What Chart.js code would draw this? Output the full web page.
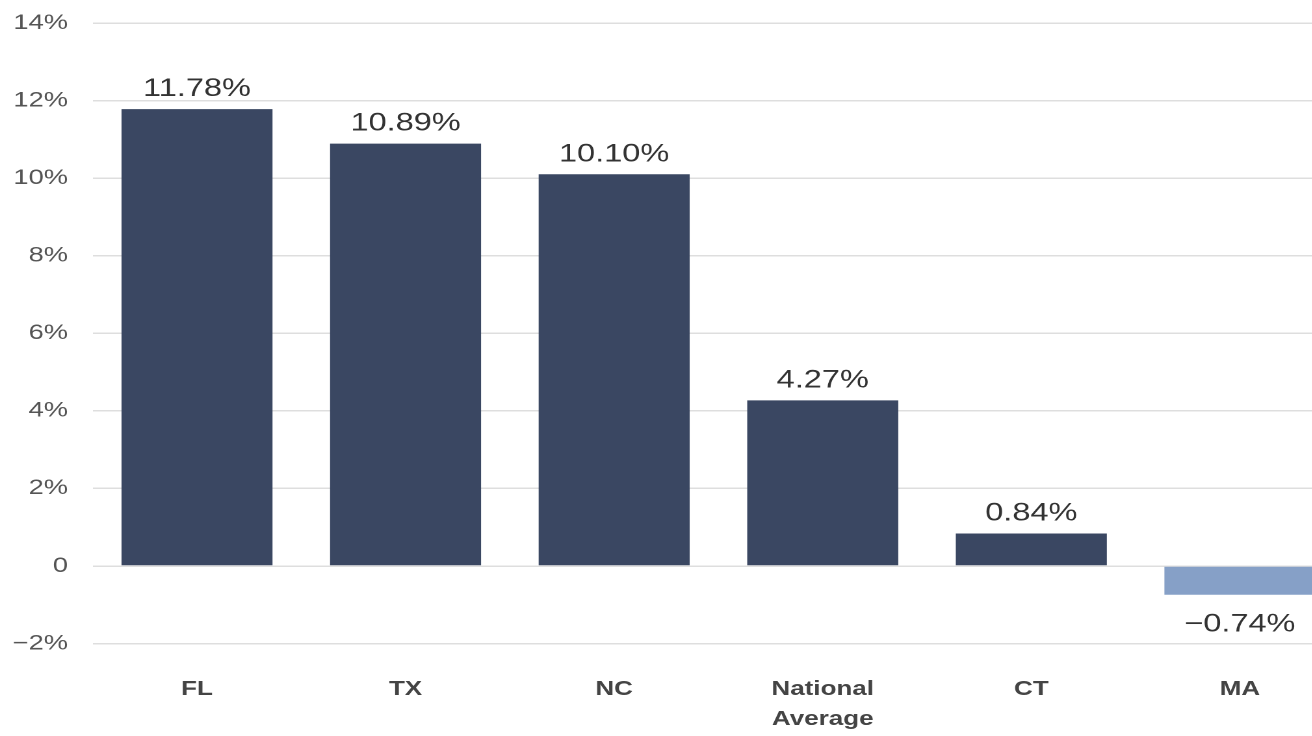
<!DOCTYPE html>
<html>
<head>
<meta charset="utf-8">
<script src="https://cdn.jsdelivr.net/npm/chart.js"></script>
<style>
  html, body { margin: 0; padding: 0; background: #fff; overflow: hidden; }
  #wrap { width: 1035px; height: 736px; transform: scaleX(1.3); transform-origin: 0 0; }
</style>
</head>
<body>
<div id="wrap"><canvas id="chart_growth" width="1035" height="736"></canvas></div>
<script>
// data
const states = ['FL', 'TX', 'NC', ['National', 'Average'], 'CT', 'MA'];
const growth = [11.78, 10.89, 10.10, 4.27, 0.84, -0.74];
const yTicks = [-2, 0, 2, 4, 6, 8, 10, 12, 14];

const DARK = '#3a4762';
const LIGHT = '#86a0c7';
const FONT = '"Liberation Sans", Arial, sans-serif';

const fmtPct = v => (v < 0 ? '\u2212' : '') + Math.abs(v).toFixed(2) + '%';

// value labels above / below each bar
const barLabels = {
  id: 'barLabels',
  afterDatasetsDraw(chart) {
    const ctx = chart.ctx;
    const meta = chart.getDatasetMeta(0);
    ctx.save();
    ctx.font = '25px ' + FONT;
    ctx.fillStyle = '#333';
    ctx.textAlign = 'center';
    ctx.textBaseline = 'alphabetic';
    meta.data.forEach((bar, i) => {
      const v = growth[i];
      if (v >= 0) {
        ctx.fillText(fmtPct(v), bar.x, bar.y - 13);
      } else {
        ctx.fillText(fmtPct(v), bar.x, bar.y + 37);
      }
    });
    ctx.restore();
  }
};

new Chart('chart_growth', {
  type: 'bar',
  data: {
    labels: states,
    datasets: [{
      data: growth,
      backgroundColor: ctx => (ctx.raw < 0 ? LIGHT : DARK),
      borderWidth: 0,
      categoryPercentage: 1,
      barPercentage: 0.724
    }]
  },
  options: {
    responsive: false,
    animation: false,
    devicePixelRatio: 2,
    layout: { padding: { top: 23, right: 1, left: 0, bottom: 0 } },
    plugins: {
      legend: { display: false },
      tooltip: { enabled: false }
    },
    scales: {
      y: {
        min: -2,
        max: 14,
        afterBuildTicks: s => { s.ticks = yTicks.map(v => ({ value: v })); },
        afterFit: s => { s.width = 71.3; s.paddingTop = 0; s.paddingBottom = 0; },
        border: { display: false },
        grid: { color: '#dedede', lineWidth: 1.5, drawTicks: false },
        ticks: {
          padding: 19,
          color: '#555',
          font: { family: FONT, size: 21 },
          callback: v => (v === 0 ? '0' : (v < 0 ? '\u2212' + Math.abs(v) : v) + '%')
        }
      },
      x: {
        afterFit: s => { s.height = 92.4; },
        border: { display: false },
        grid: { display: false, drawTicks: false },
        ticks: {
          padding: 31,
          color: '#444',
          maxRotation: 0,
          autoSkip: false,
          font: { family: FONT, size: 20, weight: 'bold', lineHeight: 1.5 }
        }
      }
    }
  },
  plugins: [barLabels]
});
</script>
</body>
</html>
